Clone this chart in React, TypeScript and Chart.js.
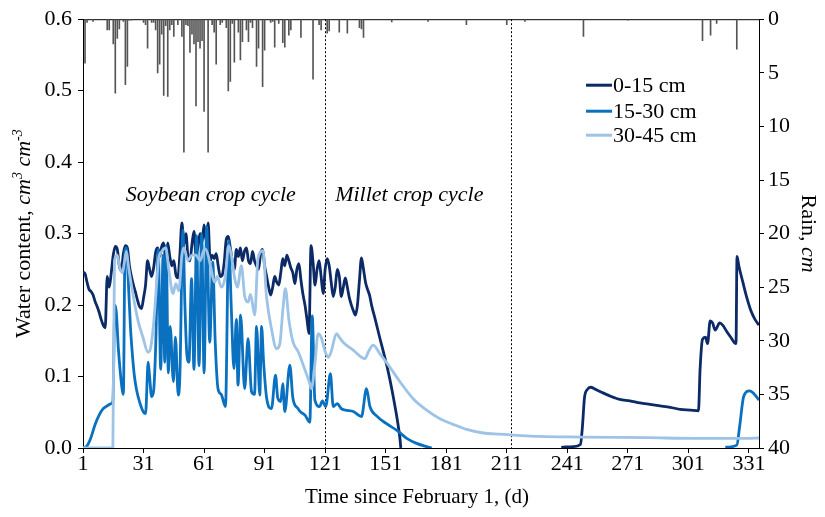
import React, { useEffect, useRef } from 'react';
import { Chart, registerables } from 'chart.js';

Chart.register(...registerables);

const SERIF = '"Liberation Serif", "Times New Roman", serif';
const TEXT_SIZE = 22;

// Axis ticks
const dayTicks = [1, 31, 61, 91, 121, 151, 181, 211, 241, 271, 301, 331];
const waterTicks = [0, 0.1, 0.2, 0.3, 0.4, 0.5, 0.6];
const rainTicks = [0, 5, 10, 15, 20, 25, 30, 35, 40];

// Soil layers
const layerLabels = ['0-15 cm', '15-30 cm', '30-45 cm'];
const layerColors = ['#0b2a66', '#0a70c0', '#9dc3e6'];

// Crop cycle boundaries (day) and their captions
const cycleBounds = [121, 213];
const cycleNames = ['Soybean crop cycle', 'Millet crop cycle'];
const cycleNameDays = [64.3, 162.7];

// Daily rain, [day, cm]
const rain: [number, number][] = [
  [2, 4.1], [3, 0.3], [6, 0.2], [13, 1.0], [14, 1.0], [16, 2.3], [17, 6.9], [18, 1.8], [19, 0.9],
  [21, 0.2], [22, 6.1], [23, 4.4], [24, 0.1], [25, 0.1], [31, 0.3], [32, 0.5], [33, 2.7], [35, 0.3],
  [36, 0.3], [37, 1.0], [38, 5.0], [39, 4.2], [40, 1.4], [41, 7.1], [42, 0.6], [43, 7.2], [44, 1.0],
  [45, 0.5], [46, 1.6], [48, 0.5], [50, 1.6], [51, 12.4], [52, 0.5], [53, 0.6], [54, 3.1], [55, 1.4],
  [56, 2.3], [57, 8.1], [58, 2.1], [59, 2.7], [60, 2.0], [61, 8.6], [63, 12.4], [65, 0.5], [66, 1.2],
  [67, 4.2], [69, 0.5], [70, 0.3], [72, 0.8], [73, 6.7], [74, 5.8], [75, 0.4], [76, 4.0], [78, 1.2],
  [79, 3.8], [80, 2.1], [82, 1.0], [83, 2.1], [84, 0.3], [85, 0.8], [87, 4.4], [88, 2.7], [90, 6.3],
  [91, 2.9], [94, 0.3], [95, 0.2], [96, 2.6], [98, 0.4], [100, 2.2], [101, 2.6], [103, 1.5], [104, 1.0],
  [109, 1.7], [115, 5.6], [118, 0.5], [119, 1.0], [122, 1.3], [123, 1.1], [128, 1.2], [132, 1.3],
  [138, 0.8], [139, 0.9], [140, 1.7], [154, 0.25], [172, 0.2], [191, 0.5], [211, 0.5], [220, 0.2],
  [249, 1.6], [271, 0.1], [308, 2.0], [312, 1.5], [315, 0.4], [325, 2.8],
];

// Water content 0-15 cm, [day, cm3/cm3]
const layerTop: [number, number | null][] = [
  [1, 0.246], [2, 0.244], [3, 0.232], [4, 0.222], [5, 0.219], [6, 0.214], [7, 0.205], [8, 0.198],
  [9, 0.19], [10, 0.18], [11, 0.172], [12, 0.168], [13, 0.24], [14, 0.225], [15, 0.245], [16, 0.27],
  [17, 0.282], [18, 0.278], [19, 0.255], [20, 0.248], [21, 0.272], [22, 0.283], [23, 0.28], [24, 0.255],
  [25, 0.24], [26, 0.228], [27, 0.218], [28, 0.207], [29, 0.198], [30, 0.195], [31, 0.21], [32, 0.228],
  [33, 0.262], [34, 0.25], [35, 0.24], [36, 0.252], [37, 0.274], [38, 0.28], [39, 0.268], [40, 0.282],
  [41, 0.287], [42, 0.262], [43, 0.287], [44, 0.268], [45, 0.255], [46, 0.262], [47, 0.243], [48, 0.238],
  [49, 0.27], [50, 0.315], [51, 0.285], [52, 0.3], [53, 0.268], [54, 0.262], [55, 0.285], [56, 0.303],
  [57, 0.27], [58, 0.282], [59, 0.3], [60, 0.288], [61, 0.312], [62, 0.29], [63, 0.315], [64, 0.262],
  [65, 0.27], [66, 0.265], [67, 0.272], [68, 0.255], [69, 0.24], [70, 0.242], [71, 0.26], [72, 0.292],
  [73, 0.296], [74, 0.28], [75, 0.262], [76, 0.25], [77, 0.278], [78, 0.268], [79, 0.28], [80, 0.262],
  [81, 0.275], [82, 0.28], [83, 0.262], [84, 0.258], [85, 0.275], [86, 0.262], [87, 0.255], [88, 0.25],
  [89, 0.272], [90, 0.278], [91, 0.255], [92, 0.24], [93, 0.225], [94, 0.214], [95, 0.225], [96, 0.24],
  [97, 0.232], [98, 0.228], [99, 0.245], [100, 0.265], [101, 0.255], [102, 0.27], [103, 0.262],
  [104, 0.252], [105, 0.245], [106, 0.23], [107, 0.25], [108, 0.258], [109, 0.235], [110, 0.215],
  [111, 0.2], [112, 0.18], [113, 0.16], [114, 0.283], [115, 0.26], [116, 0.228], [117, 0.25],
  [118, 0.262], [119, 0.24], [120, 0.216], [121, 0.25], [122, 0.265], [123, 0.255], [124, 0.232],
  [125, 0.212], [126, 0.225], [127, 0.25], [128, 0.24], [129, 0.212], [130, 0.225], [131, 0.238],
  [132, 0.225], [133, 0.21], [134, 0.2], [135, 0.192], [136, 0.186], [137, 0.2], [138, 0.235],
  [139, 0.266], [140, 0.25], [141, 0.232], [142, 0.222], [143, 0.214], [144, 0.2], [146, 0.178],
  [148, 0.155], [150, 0.133], [152, 0.11], [154, 0.083], [156, 0.052], [157, 0.035], [158, 0.015],
  [158.5, 0], [200, null], [238, 0.001], [244, 0.002], [247.5, 0.005], [248.5, 0.03], [249.5, 0.07],
  [251, 0.082], [252.5, 0.085], [255, 0.082], [258, 0.078], [262, 0.073], [267, 0.068], [272, 0.066],
  [277, 0.063], [282, 0.061], [287, 0.059], [292, 0.057], [297, 0.054], [302, 0.053], [306, 0.052],
  [306.8, 0.11], [308, 0.152], [309.5, 0.155], [310.5, 0.146], [311.8, 0.178], [313, 0.175],
  [314.3, 0.165], [316.5, 0.175], [318, 0.172], [320, 0.163], [322, 0.155], [324.6, 0.146],
  [325.1, 0.268], [326, 0.255], [328, 0.232], [330, 0.21], [332, 0.192], [334, 0.18], [336, 0.172],
];

// Water content 15-30 cm
const layerMid: [number, number | null][] = [
  [1, 0], [3, 0.003], [5, 0.015], [7, 0.033], [9, 0.046], [11, 0.055], [13, 0.059], [15, 0.062],
  [15.8, 0.065], [16.8, 0.2], [17.5, 0.19], [18.5, 0.14], [19.5, 0.105], [20.5, 0.08], [21, 0.075],
  [21.8, 0.275], [22.5, 0.28], [23.5, 0.23], [24.5, 0.17], [25.5, 0.13], [26.5, 0.1], [27.5, 0.082],
  [29, 0.065], [31, 0.05], [32, 0.048], [33.3, 0.12], [34, 0.1], [35, 0.072], [36, 0.08], [37, 0.14],
  [38.3, 0.278], [39.5, 0.11], [40.7, 0.27], [41.5, 0.12], [42.2, 0.283], [43.3, 0.105], [44.2, 0.17],
  [45.8, 0.093], [46.8, 0.155], [48.2, 0.074], [49, 0.1], [50.5, 0.305], [51.5, 0.2], [52.5, 0.13],
  [53.5, 0.12], [54.8, 0.237], [56, 0.11], [57.3, 0.297], [58.5, 0.115], [59.8, 0.3], [61, 0.105],
  [62.3, 0.31], [63.8, 0.148], [65.3, 0.26], [66.5, 0.15], [67.9, 0.083], [69.5, 0.075], [71.6, 0.058],
  [73.2, 0.29], [74.5, 0.195], [75.8, 0.111], [77, 0.18], [77.8, 0.088], [79.1, 0.186], [81.1, 0.083],
  [82.8, 0.153], [84.5, 0.079], [86, 0.075], [87, 0.17], [88.6, 0.074], [89.5, 0.17], [90.5, 0.12],
  [92, 0.07], [94.4, 0.055], [96.4, 0.102], [97.5, 0.07], [99, 0.065], [100, 0.09], [101, 0.051],
  [103.5, 0.116], [105, 0.07], [107.6, 0.055], [109, 0.05], [111, 0.046], [113.4, 0.036], [114.6, 0.185],
  [115.9, 0.067], [118.3, 0.058], [119.6, 0.066], [121.3, 0.058], [123.6, 0.104], [125, 0.058],
  [127, 0.062], [129, 0.055], [131, 0.053], [135, 0.051], [139, 0.044], [141.5, 0.083], [143.2, 0.058],
  [146.5, 0.045], [151.4, 0.034], [156.4, 0.025], [161.4, 0.0135], [166.3, 0.0065], [171.3, 0.002],
  [173.8, 0], [250, null], [319.3, 0.001], [325, 0.004], [326.4, 0.03], [328.4, 0.072], [331.3, 0.08],
  [333.5, 0.076], [336, 0.067],
];

// Water content 30-45 cm
const layerDeep: [number, number | null][] = [
  [1, 0], [15.8, 0], [16.6, 0.262], [18, 0.27], [19, 0.255], [20.5, 0.245], [21.5, 0.26], [22.5, 0.275],
  [23.5, 0.255], [25.7, 0.216], [28.2, 0.179], [30.7, 0.155], [33.2, 0.134], [34.5, 0.14], [36, 0.174],
  [37.6, 0.234], [38.5, 0.265], [40, 0.275], [42, 0.28], [43.5, 0.25], [45.6, 0.216], [47, 0.23],
  [48.5, 0.22], [50, 0.27], [51, 0.28], [53, 0.262], [55, 0.27], [57, 0.27], [59, 0.262], [61.3, 0.279],
  [63, 0.27], [64.5, 0.25], [66.2, 0.232], [67.5, 0.24], [69.6, 0.225], [71.5, 0.24], [73.2, 0.283],
  [74.5, 0.27], [76.2, 0.237], [77.5, 0.225], [79.5, 0.255], [81.1, 0.213], [82.8, 0.204], [84, 0.215],
  [86.1, 0.186], [87.7, 0.265], [90.2, 0.276], [91.9, 0.213], [94.4, 0.167], [96.9, 0.139], [98.5, 0.145],
  [100.1, 0.195], [101.3, 0.223], [103, 0.18], [105.1, 0.148], [107.6, 0.135], [110.9, 0.11],
  [113.4, 0.09], [114.2, 0.083], [116, 0.12], [117.5, 0.16], [119, 0.155], [121, 0.135], [122.5, 0.127],
  [124, 0.135], [126.6, 0.16], [128, 0.155], [129.9, 0.148], [134.9, 0.137], [140.7, 0.125],
  [142.5, 0.135], [144.8, 0.144], [148.1, 0.132], [153.1, 0.113], [158, 0.093], [164.6, 0.069],
  [171.3, 0.053], [177.9, 0.041], [184.5, 0.033], [191.1, 0.026], [199.4, 0.021], [207.6, 0.0195],
  [222.5, 0.0167], [247.3, 0.0153], [280.4, 0.0144], [305.2, 0.0135], [330, 0.0135], [336, 0.014],
];

const toPoints = (rows: [number, number | null][]) => rows.map(([x, y]) => ({ x, y }));

type Run = { text: string; italic?: boolean; sup?: boolean };

// Draws a mixed-style caption centred on (cx, cy), rotated by angle.
function drawRuns(ctx: CanvasRenderingContext2D, runs: Run[], cx: number, cy: number, angle: number, size: number) {
  const fontOf = (r: Run) =>
    `${r.italic ? 'italic ' : ''}${r.sup ? Math.round(size * 0.62) : size}px ${SERIF}`;
  const widths = runs.map((r) => {
    ctx.font = fontOf(r);
    return ctx.measureText(r.text).width;
  });
  const total = widths.reduce((a, b) => a + b, 0);
  ctx.save();
  ctx.translate(cx, cy);
  ctx.rotate(angle);
  ctx.fillStyle = '#000';
  ctx.textBaseline = 'alphabetic';
  ctx.textAlign = 'left';
  let x = -total / 2;
  const base = size * 0.33;
  runs.forEach((r, i) => {
    ctx.font = fontOf(r);
    ctx.fillText(r.text, x, r.sup ? base - size * 0.38 : base);
    x += widths[i];
  });
  ctx.restore();
}

const decorations = {
  id: 'decorations',
  beforeDatasetsDraw(chart: any) {
    const { ctx, chartArea: a, scales } = chart;
    ctx.save();
    ctx.strokeStyle = '#000';
    ctx.lineWidth = 1;
    // frame top edge
    ctx.beginPath();
    ctx.moveTo(a.left, a.top + 0.5);
    ctx.lineTo(a.right, a.top + 0.5);
    ctx.stroke();
    // crop cycle boundaries
    ctx.setLineDash([2, 2]);
    cycleBounds.forEach((d) => {
      const px = Math.round(scales.x.getPixelForValue(d)) + 0.5;
      ctx.beginPath();
      ctx.moveTo(px, a.top);
      ctx.lineTo(px, a.bottom);
      ctx.stroke();
    });
    ctx.restore();
  },
  afterDraw(chart: any) {
    const { ctx, chartArea: a, scales } = chart;
    const midY = (a.top + a.bottom) / 2;

    // axis titles
    drawRuns(
      ctx,
      [
        { text: 'Water content, ' },
        { text: 'cm', italic: true },
        { text: '3', italic: true, sup: true },
        { text: ' cm', italic: true },
        { text: '-3', italic: true, sup: true },
      ],
      23,
      midY,
      -Math.PI / 2,
      TEXT_SIZE
    );
    drawRuns(ctx, [{ text: 'Rain, ' }, { text: 'cm', italic: true }], chart.width - 16, midY, Math.PI / 2, TEXT_SIZE);
    drawRuns(ctx, [{ text: 'Time since February 1, (d)' }], 417, 496, 0, 21);

    // crop cycle captions
    const capY = scales.y.getPixelForValue(0.356);
    cycleNames.forEach((name, i) => {
      drawRuns(ctx, [{ text: name, italic: true }], scales.x.getPixelForValue(cycleNameDays[i]), capY, 0, TEXT_SIZE);
    });

    // legend
    ctx.save();
    const x0 = a.right - 173;
    const x1 = a.right - 147;
    const rows = [66, 92, 116];
    ctx.font = `${TEXT_SIZE}px ${SERIF}`;
    ctx.textBaseline = 'middle';
    ctx.textAlign = 'left';
    layerLabels.forEach((label, i) => {
      const y = a.top + rows[i];
      ctx.strokeStyle = layerColors[i];
      ctx.lineWidth = 3;
      ctx.beginPath();
      ctx.moveTo(x0, y);
      ctx.lineTo(x1, y);
      ctx.stroke();
      ctx.fillStyle = '#000';
      ctx.fillText(label, x1 + 1, y + 1);
    });
    ctx.restore();
  },
};

const tickFont = { family: SERIF, size: TEXT_SIZE };
const axisGrid = { drawOnChartArea: false, drawTicks: true, tickLength: 5, color: '#000', lineWidth: 1, offset: false };
const axisBorder = { display: true, color: '#000', width: 1 };
const setTicks = (values: number[]) => (scale: any) => {
  scale.ticks = values.map((value) => ({ value }));
};

export default function App() {
  const canvasRef = useRef<HTMLCanvasElement | null>(null);

  useEffect(() => {
    const canvas = canvasRef.current;
    if (!canvas) return;
    const lineStyle = (i: number, order: number) => ({
      type: 'line' as const,
      label: layerLabels[i],
      borderColor: layerColors[i],
      backgroundColor: layerColors[i],
      borderWidth: 2.8,
      pointRadius: 0,
      cubicInterpolationMode: 'monotone' as const,
      spanGaps: false,
      yAxisID: 'y',
      order,
    });
    const chart = new Chart(canvas, {
      type: 'line',
      data: {
        datasets: [
          { ...lineStyle(0, 3), data: toPoints(layerTop) },
          { ...lineStyle(1, 2), data: toPoints(layerMid) },
          { ...lineStyle(2, 1), data: toPoints(layerDeep) },
          {
            type: 'bar',
            label: 'Rain',
            data: rain.map(([x, y]) => ({ x, y })),
            backgroundColor: '#555555',
            borderWidth: 0,
            barThickness: 1,
            yAxisID: 'y2',
            order: 4,
          } as any,
        ],
      },
      options: {
        responsive: false,
        animation: false,
        devicePixelRatio: 1,
        layout: { padding: { top: 18, left: 0, right: 0, bottom: 0 } },
        plugins: { legend: { display: false }, tooltip: { enabled: false } },
        scales: {
          x: {
            type: 'linear',
            min: 1,
            max: 336,
            offset: false,
            afterBuildTicks: setTicks(dayTicks),
            afterFit: (s: any) => {
              s.height = 69;
            },
            ticks: { font: tickFont, color: '#000', maxRotation: 0, autoSkip: false, padding: -2 },
            grid: axisGrid,
            border: axisBorder,
          },
          y: {
            position: 'left',
            min: 0,
            max: 0.6,
            afterBuildTicks: setTicks(waterTicks),
            afterFit: (s: any) => {
              s.width = 83;
            },
            ticks: { font: tickFont, color: '#000', padding: 6, callback: (v: any) => Number(v).toFixed(1) },
            grid: axisGrid,
            border: axisBorder,
          },
          y2: {
            position: 'right',
            min: 0,
            max: 40,
            reverse: true,
            afterBuildTicks: setTicks(rainTicks),
            afterFit: (s: any) => {
              s.width = 66;
            },
            ticks: { font: tickFont, color: '#000', padding: 4 },
            grid: axisGrid,
            border: axisBorder,
          },
        },
      },
      plugins: [decorations],
    });
    return () => chart.destroy();
  }, []);

  return (
    <div style={{ position: 'absolute', left: 0, top: 0, width: 825, height: 517, background: '#fff' }}>
      <canvas ref={canvasRef} width={825} height={517} />
    </div>
  );
}
